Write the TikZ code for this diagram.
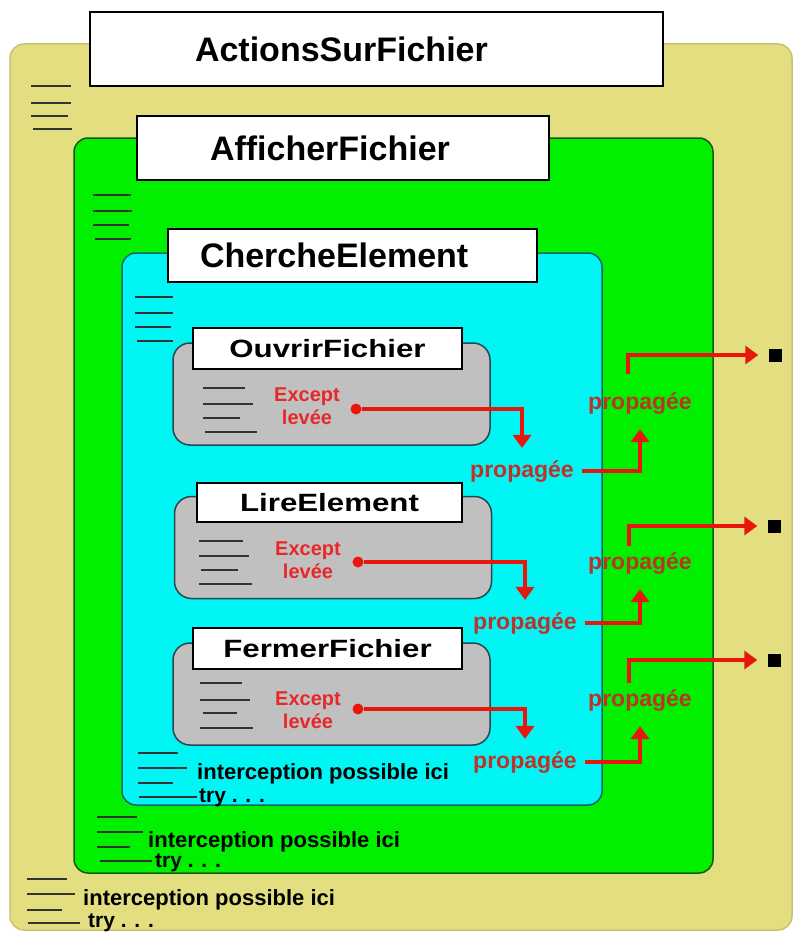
\documentclass[tikz,border=0pt]{standalone}
\usepackage{fontspec}
\setmainfont{Liberation Sans}
\newfontfamily\largefont[FakeStretch=1.25]{Liberation Sans}
\usepackage{tikz}
\usetikzlibrary{arrows.meta}
\usepackage{xcolor}
\definecolor{Jaune}{RGB}{227,223,128}
\definecolor{JauneBord}{RGB}{200,195,110}
\definecolor{Vert}{RGB}{0,240,0}
\definecolor{VertBord}{RGB}{20,90,20}
\definecolor{Cyan}{RGB}{0,245,245}
\definecolor{CyanBord}{RGB}{20,100,110}
\definecolor{Gris}{RGB}{192,192,192}
\definecolor{GrisBord}{RGB}{40,70,80}
\definecolor{RougeFleche}{RGB}{232,22,12}
\definecolor{RougeExcept}{RGB}{232,40,40}
\definecolor{RougeProp}{RGB}{190,50,40}

\begin{document}
\begin{tikzpicture}[x=1pt,y=-1pt,
  cadre/.style={rounded corners=14pt,line width=1.5pt,inner sep=0pt},
  titre/.style={draw=black,fill=white,line width=2pt,align=left,
                font=\bfseries\fontsize{34}{40}\selectfont},
  stitre/.style={draw=black,fill=white,line width=2pt,inner sep=0pt,
                 font=\largefont\bfseries\fontsize{25}{30}\selectfont},
  boite/.style={draw=GrisBord,fill=Gris,rounded corners=17pt,line width=1.5pt,
                minimum width=317pt,minimum height=102pt,inner sep=0pt},
  trait/.style={draw=black!80,line width=2.4pt},
  except/.style={text=RougeExcept,align=center,inner sep=0pt,
                 font=\bfseries\fontsize{20}{23}\selectfont},
  prop/.style={text=RougeProp,inner sep=3pt,anchor=base,
               font=\bfseries\fontsize{23}{26}\selectfont},
  bas/.style={inner sep=0pt,anchor=west,font=\bfseries\fontsize{22}{26}\selectfont},
  essai/.style={inner sep=0pt,anchor=west,font=\bfseries\fontsize{21}{24}\selectfont},
  point/.style={circle,fill=RougeFleche,minimum size=11pt,inner sep=0pt},
  carre/.style={fill=black,minimum size=13pt,inner sep=0pt},
  fleche/.style={draw=RougeFleche,line width=4.5pt,
                 -{Triangle[length=13pt,width=18pt]}},
]
\useasboundingbox (0,0) rectangle (794,934);
% blocs imbriques
\node[cadre,draw=JauneBord,fill=Jaune,minimum width=782pt,minimum height=886pt] (actions) at (401,487) {};
\node[titre,inner xsep=105pt,text width=363pt,minimum height=74pt] (tactions) at (376.5,49) {ActionsSurFichier};
\node[cadre,draw=VertBord,fill=Vert,minimum width=639pt,minimum height=735pt] (afficher) at (393.5,505.5) {};
\node[titre,inner xsep=73pt,text width=266pt,minimum height=64pt] (tafficher) at (343,148) {AfficherFichier};
\node[cadre,draw=CyanBord,fill=Cyan,minimum width=480pt,minimum height=552pt] (cherche) at (362,529) {};
\node[titre,inner xsep=32pt,text width=305pt,minimum height=53pt] (tcherche) at (352.5,255.5) {ChercheElement};
\node[boite] (ouvrir) at (331.5,394) {};
\node[stitre,minimum width=269pt,minimum height=41pt] (touvrir) at (327.5,348.5) {OuvrirFichier};
\node[boite] (lire) at (333,547.5) {};
\node[stitre,minimum width=265pt,minimum height=39pt] (tlire) at (329.5,502.5) {LireElement};
\node[boite] (fermer) at (331.5,694) {};
\node[stitre,minimum width=269pt,minimum height=41pt] (tfermer) at (327.5,648.5) {FermerFichier};
% lignes de code
\foreach \xa/\xb/\yy in {31/71/86,31/71/103,31/68/116,33/72/129,
    93/131/195,93/132/211,93/129/225,95/131/239,
    135/173/297,135/173/313,135/171/327,137/173/341,
    203/245/388,203/253/404,203/240/418,205/257/432,
    199/243/541,199/249/556,201/238/570,199/252/584,
    200/242/683,200/250/700,203/237/713,200/253/728,
    138/178/753,138/187/768,138/173/783,139/197/797,
    97/137/817,97/143/832,97/130/847,100/152/861,
    27/67/879,27/75/894,27/62/910,28/80/923}
  \draw[trait] (\xa,\yy) -- (\xb,\yy);
% exceptions
\node[except] (ex1) at (307,406) {Except\\lev\'ee};
\node[except] (ex2) at (308,560) {Except\\lev\'ee};
\node[except] (ex3) at (308,710) {Except\\lev\'ee};
\node[point] (dot1) at (356,409) {};
\node[point] (dot2) at (358,562) {};
\node[point] (dot3) at (358,709) {};
\node[prop] (pa1) at (522,477) {propag\'ee};
\node[prop] (pa2) at (525,629) {propag\'ee};
\node[prop] (pa3) at (525,768) {propag\'ee};
\node[prop] (pb1) at (640,409) {propag\'ee};
\node[prop] (pb2) at (640,569) {propag\'ee};
\node[prop] (pb3) at (640,706) {propag\'ee};
\coordinate (da1) at (628,374);
\coordinate (da2) at (629,546);
\coordinate (da3) at (629,683);
\node[carre] (sq1) at (775,355) {};
\node[carre] (sq2) at (774,526) {};
\node[carre] (sq3) at (774,660) {};
% interceptions
\node[bas] (ic1) at (197,774) {interception possible ici};
\node[essai] (try1) at (199,798) {try . . .};
\node[bas] (ic2) at (148,842) {interception possible ici};
\node[essai] (try2) at (155,863) {try . . .};
\node[bas] (ic3) at (83,900) {interception possible ici};
\node[essai] (try3) at (88,922.5) {try . . .};
% propagation
\draw[fleche,shorten >=9pt] (dot1) -| (pa1);
\draw[fleche,shorten >=9pt] (dot2) -| (pa2);
\draw[fleche,shorten >=9pt] (dot3) -| (pa3);
\draw[fleche,shorten <=5pt,shorten >=12pt] (pa1) -| (pb1);
\draw[fleche,shorten <=5pt,shorten >=12pt] (pa2) -| (pb2);
\draw[fleche,shorten <=5pt,shorten >=12pt] (pa3) -| (pb3);
\draw[fleche,shorten >=10pt] (da1) |- (sq1);
\draw[fleche,shorten >=10pt] (da2) |- (sq2);
\draw[fleche,shorten >=10pt] (da3) |- (sq3);
\end{tikzpicture}
\end{document}
